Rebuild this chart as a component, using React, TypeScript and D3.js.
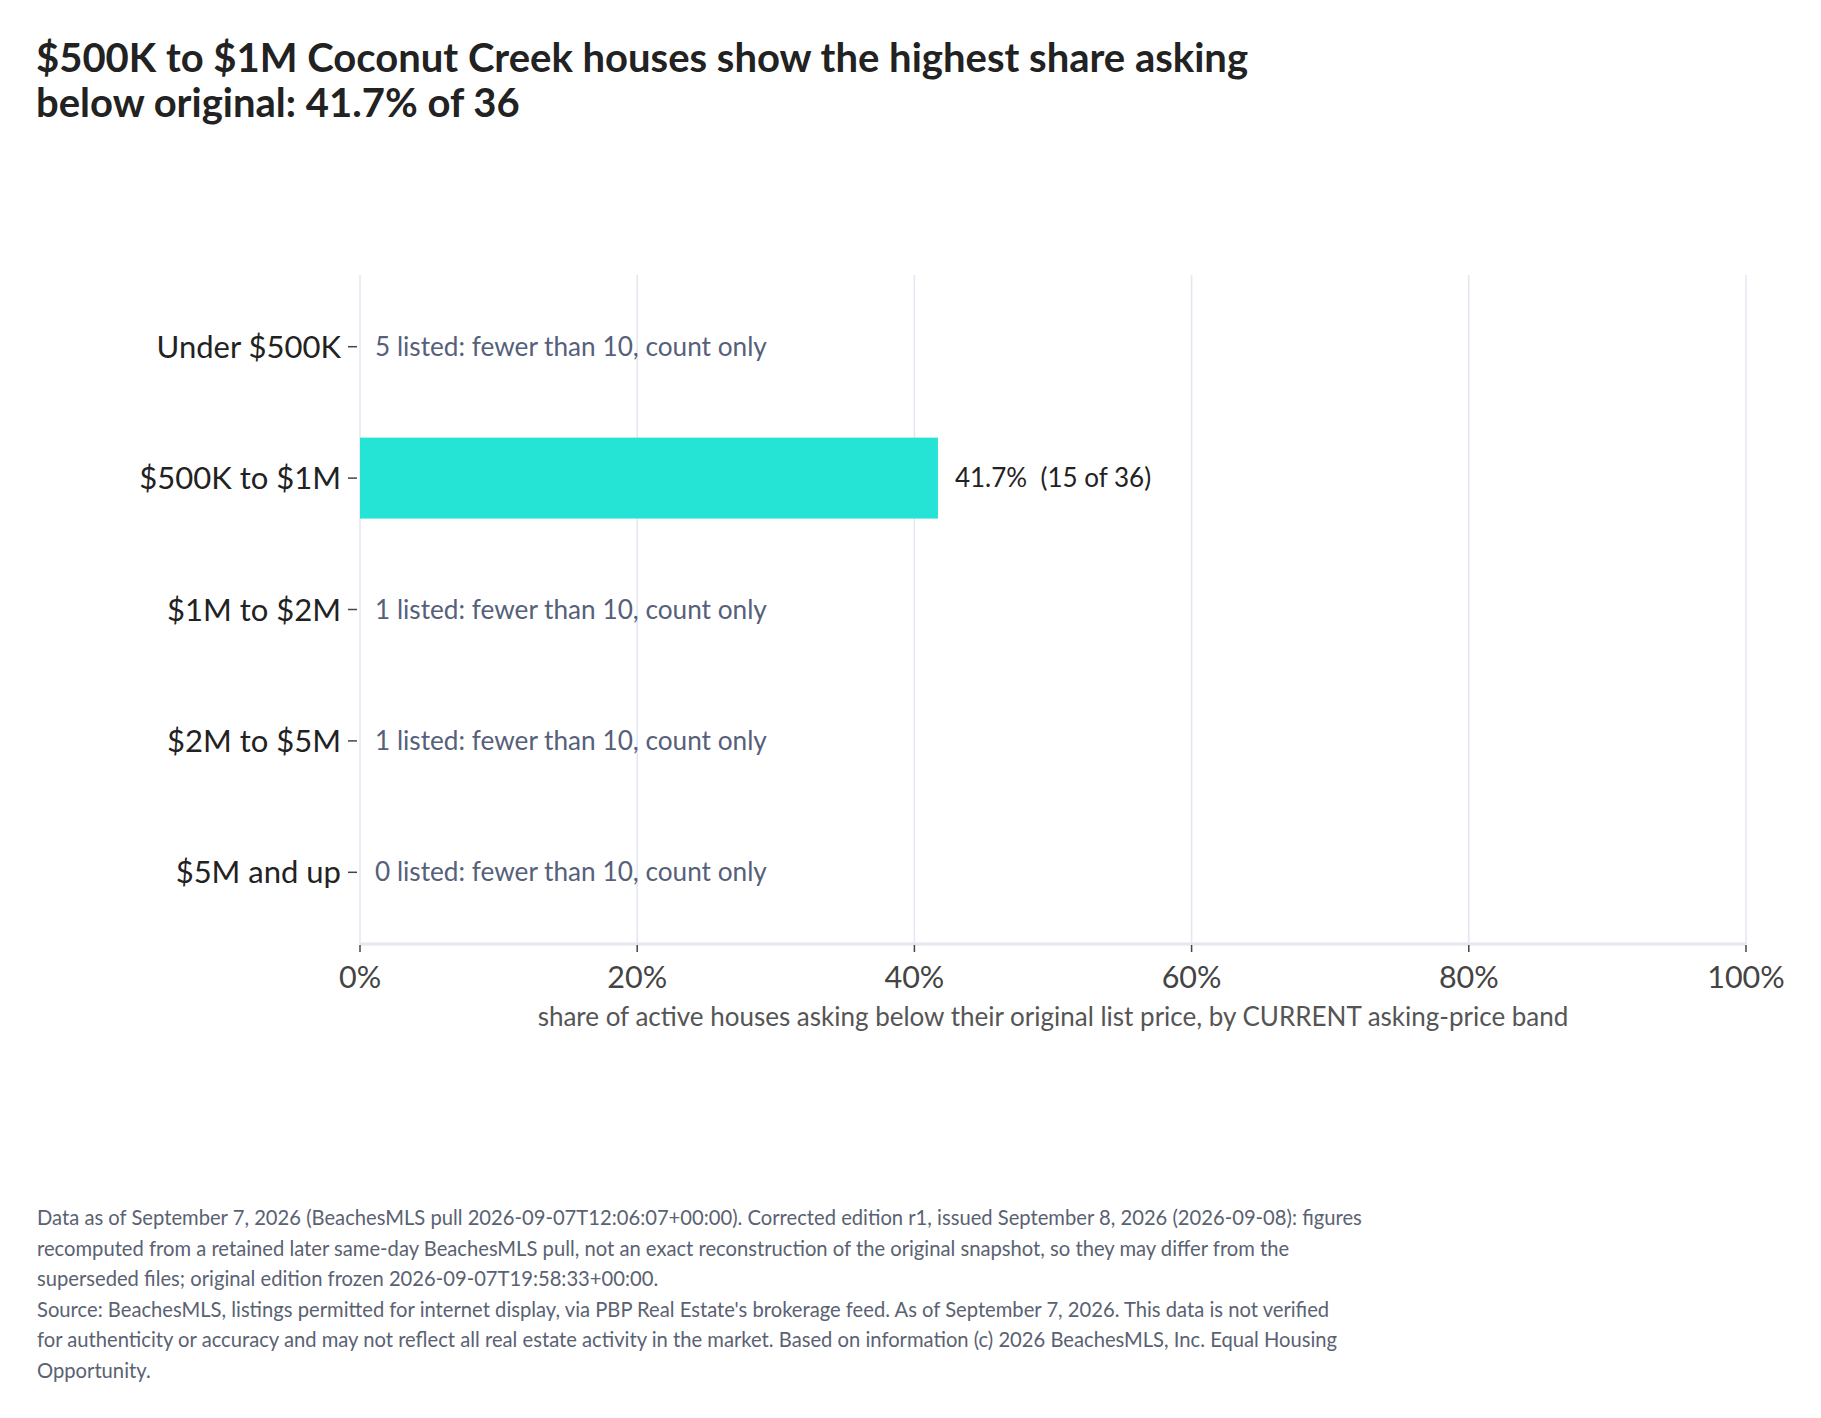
import { useEffect } from "react";
import * as d3 from "d3";

const W = 1821;
const H = 1418;

const bands = ["Under $500K", "$500K to $1M", "$1M to $2M", "$2M to $5M", "$5M and up"];
const listed = [5, 36, 1, 1, 0];
const below = [null, 15, null, null, null];
const shares = [null, 41.7, null, null, null];
const xTicks = [0, 20, 40, 60, 80, 100];

const titleLines = [
  "$500K to $1M Coconut Creek houses show the highest share asking",
  "below original: 41.7% of 36",
];

const footerLines = [
  "Data as of September 7, 2026 (BeachesMLS pull 2026-09-07T12:06:07+00:00). Corrected edition r1, issued September 8, 2026 (2026-09-08): figures",
  "recomputed from a retained later same-day BeachesMLS pull, not an exact reconstruction of the original snapshot, so they may differ from the",
  "superseded files; original edition frozen 2026-09-07T19:58:33+00:00.",
  "Source: BeachesMLS, listings permitted for internet display, via PBP Real Estate's brokerage feed. As of September 7, 2026. This data is not verified",
  "for authenticity or accuracy and may not reflect all real estate activity in the market. Based on information (c) 2026 BeachesMLS, Inc. Equal Housing",
  "Opportunity.",
];

const FONT = "Lato, 'Noto Sans', sans-serif";
const plot = { left: 360, right: 1746, top: 275, bottom: 944 };

const App = () => {
  useEffect(() => {
    document.body.style.margin = "0";
  }, []);

  const x = d3.scaleLinear().domain([0, 100]).range([plot.left, plot.right]);
  const y = d3
    .scaleBand()
    .domain(bands)
    .range([plot.top + 6, plot.bottom - 6])
    .paddingInner(0.384)
    .paddingOuter(0.192);
  const mid = (b: string) => (y(b) ?? 0) + y.bandwidth() / 2;

  return (
    <svg width={W} height={H} style={{ display: "block", background: "#fff" }} fontFamily={FONT}>
      {titleLines.map((t, i) => (
        <text key={i} x={36} y={72 + i * 45} fontSize={40} fontWeight={700} fill="#222">
          {t}
        </text>
      ))}

      <g stroke="#e4e6f0" strokeWidth={1.5}>
        {xTicks.map((t) => (
          <line key={t} x1={x(t)} x2={x(t)} y1={plot.top} y2={plot.bottom} />
        ))}
      </g>
      <line x1={plot.left} x2={plot.right} y1={plot.bottom} y2={plot.bottom} stroke="#e4e6f0" strokeWidth={3} />

      {bands.map((b, i) =>
        shares[i] != null ? (
          <g key={b}>
            <rect
              x={x(0)}
              y={y(b)}
              width={x(shares[i] as number) - x(0)}
              height={y.bandwidth()}
              fill="#26e4d5"
            />
            <text
              x={x(shares[i] as number) + 17}
              y={mid(b) + 9}
              fontSize={26}
              fill="#222"
              style={{ whiteSpace: "pre" }}
            >
              {`${(shares[i] as number).toFixed(1)}%  (${below[i]} of ${listed[i]})`}
            </text>
          </g>
        ) : (
          <text key={b} x={x(0) + 15} y={mid(b) + 9} fontSize={26.2} fill="#56607a">
            {`${listed[i]} listed: fewer than 10, count only`}
          </text>
        ),
      )}

      {bands.map((b) => (
        <g key={b}>
          <line x1={348} x2={357} y1={mid(b)} y2={mid(b)} stroke="#444" strokeWidth={1.5} />
          <text x={341} y={mid(b) + 11} textAnchor="end" fontSize={31} fill="#222">
            {b}
          </text>
        </g>
      ))}

      {xTicks.map((t) => (
        <g key={t}>
          <line x1={x(t)} x2={x(t)} y1={plot.bottom + 1} y2={plot.bottom + 8} stroke="#444" strokeWidth={1.5} />
          <text x={x(t)} y={988} textAnchor="middle" fontSize={30.5} fill="#444">
            {t}%
          </text>
        </g>
      ))}
      <text x={(plot.left + plot.right) / 2} y={1026} textAnchor="middle" fontSize={26} fill="#555">
        share of active houses asking below their original list price, by CURRENT asking-price band
      </text>

      {footerLines.map((l, i) => (
        <text key={i} x={37} y={1225 + i * 30.6} fontSize={20.2} fill="#5a6272">
          {l}
        </text>
      ))}
    </svg>
  );
};

export default App;
